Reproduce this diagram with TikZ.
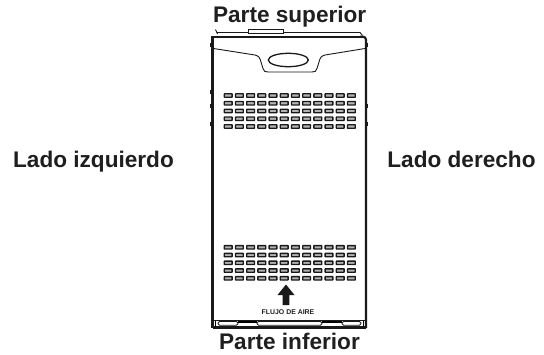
\documentclass[tikz,border=0pt]{standalone}
\usepackage{fontspec}
\setmainfont{Liberation Sans}
\begin{document}
\begin{tikzpicture}[x=1pt,y=-1pt,
  lbl/.style={font=\fontsize{22.6}{26}\selectfont\bfseries, text=black!88, inner sep=0pt},
  small/.style={font=\fontsize{6.9}{8}\selectfont\bfseries, text=black!88, inner sep=0pt},
  edge/.style={line width=2.1pt, draw=black!90},
  thinl/.style={line width=0.9pt, draw=black!90},
  vent/.style={draw=black!90, line width=1.35pt, fill=gray!60, rounded corners=0.4pt},
  nub/.style={fill=black!90}]
\fill[white] (0,0) rectangle (544,354);
\useasboundingbox (0,0) rectangle (544,354);
% labels
\node[lbl, anchor=base] (top) at (289.7,22.5) {Parte superior};
\node[lbl, anchor=base] (bottom) at (289.5,349) {Parte inferior};
\node[lbl, anchor=base] (left) at (93.5,167.3) {Lado izquierdo};
\node[lbl, anchor=base] (right) at (461.5,167.3) {Lado derecho};
% top thin line and tab
\draw[thinl] (217,32.5) -- (360,32.5) -- (362.5,35.5);
\draw[thinl] (215.5,29.5) -- (217.5,34);
\draw[thinl, fill=white] (248,29) rectangle (283,33);
% main outline
\draw[edge] (212.5,328) -- (212.5,36.7) -- (363,36.7);
\draw[edge, rounded corners=3pt] (360,36.7) -- (366,36.7) -- (366,328);
% front panel top contour
\draw[thinl] (213.5,48.5) -- (255,55) .. controls (259,56) and (260,58) .. (261,62)
  -- (263,68.5) .. controls (264,71.5) and (265,72) .. (268,72) -- (312,72)
  .. controls (315,72) and (316,71.5) .. (317,68.5) -- (319,62)
  .. controls (320,58) and (321,56) .. (325,55) -- (365,48.5);
\draw[line width=1.3pt, draw=black!90] (288.3,60) ellipse [x radius=20pt, y radius=6.7pt];
% side nubs
\foreach \yy in {45,92,106,124} { \fill[nub] (210.3,\yy-1.8) rectangle (212.5,\yy+1.8); }
\foreach \yy in {45,106,124} { \fill[nub] (366,\yy-1.8) rectangle (368.2,\yy+1.8); }
% vents
\foreach \r in {0,...,4} { \foreach \c in {0,...,11} {
  \draw[vent] ({224.3+11.2*\c},{93.8+7.75*\r}) rectangle ++(7.8,3.4);
  \draw[vent] ({224.3+11.2*\c},{245.6+7.75*\r}) rectangle ++(7.8,3.4);
}}
% airflow arrow
\fill[black!90] (286,284.5) -- (294.5,295) -- (289.3,295) -- (289.3,305) -- (282.7,305)
  -- (282.7,295) -- (277.5,295) -- cycle;
\node[small, anchor=base] (flujo) at (288,314) {FLUJO DE AIRE};
% bottom strip
\draw[thinl] (212.5,320.5) -- (366,320.5);
\draw[edge] (212.5,327.5) -- (366,327.5);
\draw[line width=1.2pt] (215.5,321) -- (215.5,327);
\draw[line width=1.2pt] (363.5,321) -- (363.5,327);
\draw[thinl, rounded corners=1.5pt] (218,321.5) rectangle (238,325.2);
\draw[thinl, rounded corners=1.5pt] (257,321.5) rectangle (322,325.2);
\draw[thinl, rounded corners=1.5pt] (342,321.5) rectangle (361,325.2);
\draw[line width=1.6pt] (238,322) -- (257,322);
\draw[line width=1.6pt] (322,322) -- (342,322);
\end{tikzpicture}
\end{document}
